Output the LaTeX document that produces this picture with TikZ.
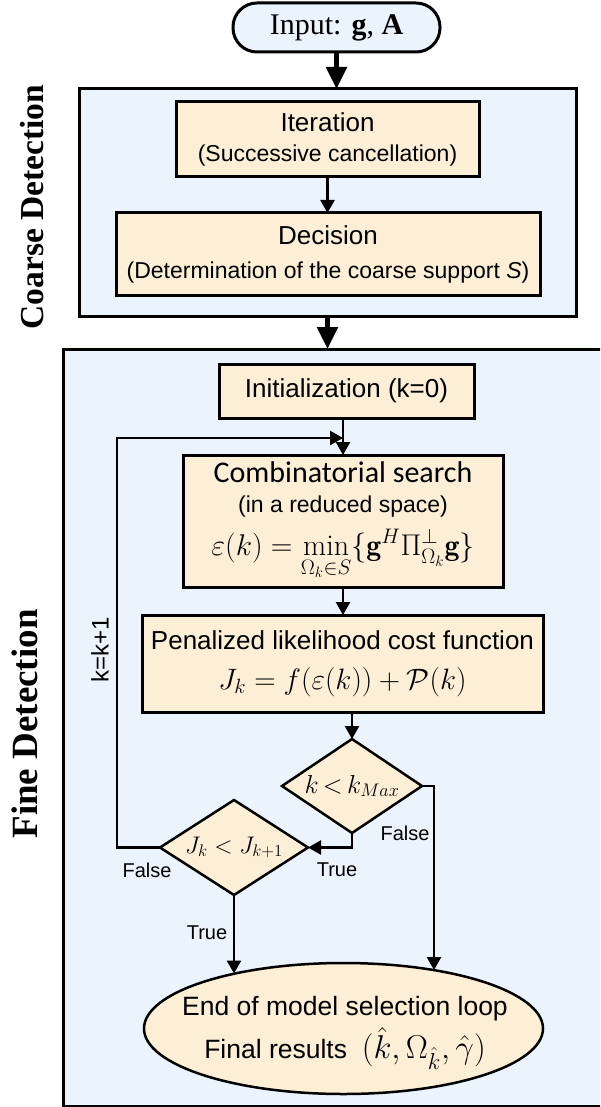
\RequirePackage{fix-cm}
\documentclass[tikz,border=0pt]{standalone}
\usepackage{amsmath}
\usepackage{fontspec}
\setsansfont{Liberation Sans}
\newfontfamily\timesf{Liberation Serif}
\newfontfamily\calib{Carlito}
\usetikzlibrary{shapes.geometric,arrows.meta}
\definecolor{bluebg}{RGB}{235,243,252}
\definecolor{boxfill}{RGB}{253,239,214}
\newcommand{\fsz}[1]{\fontsize{#1}{#1}\selectfont}
\begin{document}
\begin{tikzpicture}[x=1pt,y=-1pt,
  region/.style={draw=black,line width=3pt,fill=bluebg,inner sep=0pt,outer sep=0pt},
  proc/.style={draw=black,line width=3pt,fill=boxfill,inner sep=0pt,outer sep=0pt,align=center,font=\sffamily\fsz{26}},
  decis/.style={diamond,aspect=1.5,draw=black,line width=2.5pt,fill=boxfill,inner sep=0pt,outer sep=0pt},
  endbox/.style={ellipse,draw=black,line width=2.5pt,fill=boxfill,inner sep=0pt,outer sep=0pt},
  conn/.style={line width=2.5pt,-{Triangle[length=13pt,width=14pt]}},
  bigconn/.style={line width=5pt,-{Triangle[length=22pt,width=20pt]}},
  lbl/.style={font=\sffamily\fsz{20},inner sep=0pt},
  side/.style={rotate=90,inner sep=0pt},
]
\useasboundingbox (0,0) rectangle (600,1107);
\fill[white] (0,0) rectangle (600,1107);

% regions
\node[region,anchor=north west,minimum width=497,minimum height=227] (coarse) at (79,89) {};
\begin{scope}
\clip (0,0) rectangle (600,1107);
\node[region,anchor=north west,minimum width=560,minimum height=757] (fine) at (63,349) {};
\end{scope}

% side labels
\node[side,font=\timesf\bfseries\fsz{33.5}] (cl) at (32.5,207) {Coarse Detection};
\node[side,font=\timesf\bfseries\fsz{37}] (fl) at (25,724) {Fine Detection};

% input
\node[draw=black,line width=3pt,fill=bluebg,rounded corners=24pt,minimum width=207,minimum height=49,inner sep=0pt,outer sep=0pt,font=\timesf\fsz{30}] (input) at (336.5,27.5) {Input: \textbf{g}, \textbf{A}};

% coarse stage
\node[proc,minimum width=303,minimum height=75] (iter) at (327.5,139.5) {Iteration\\[4pt]{\fsz{23}(Successive cancellation)}};
\node[proc,minimum width=424,minimum height=82] (dec) at (328,254) {Decision\\[8pt]{\fsz{23}(Determination of the coarse support \textit{S})}};

% fine stage
\node[proc,minimum width=255,minimum height=54] (init) at (346.5,391) {Initialization (k=0)};
\node[proc,minimum width=320,minimum height=132] (comb) at (343,521) {{\calib\fsz{30}Combinatorial search}\\[4pt]{\fsz{23}(in a reduced space)}\\[10pt]{\fsz{30}$\displaystyle\varepsilon(k)=\min_{\Omega_k\in S}\{\mathbf{g}^H\Pi^{\perp}_{\Omega_k}\mathbf{g}\}$}};
\node[proc,minimum width=401,minimum height=97] (pen) at (342.5,663.5) {Penalized likelihood cost function\\[14pt]{\fsz{29.5}$J_k=f(\varepsilon(k))+\mathcal{P}(k)$}};

\node[decis,minimum width=140,minimum height=94] (dk) at (352,786) {\fsz{26}$k\,{<}\,k_{Max}$};
\node[decis,minimum width=148,minimum height=95] (dj) at (234,847.5) {\fsz{24}$J_k<J_{k+1}$};

\node[endbox,minimum width=399,minimum height=131] (ell) at (343.5,1028.5) {};
\node[align=center,inner sep=0pt,font=\sffamily\fsz{26.5}] (elltext) at (345,1033) {End of model selection loop\\[5pt]Final results\ \ {\fsz{33}$(\hat{k},\Omega_{\hat{k}},\hat{\gamma})$}};

% connectors
\draw[bigconn] (input.south) -- (input.south |- coarse.north);
\draw[bigconn] (coarse.south) -- (coarse.south |- fine.north);
\draw[conn] (iter.south) -- (iter.south |- dec.north);
\draw[conn] (comb.north |- init.south) -- (comb.north);
\draw[conn] (comb.south) -- (comb.south |- pen.north);
\draw[conn] (dk.north |- pen.south) -- (dk.north);
\draw[conn] (dk.south) |- (dj.east);
\coordinate (eR) at (434,970);
\coordinate (eL) at (234,973.5);
\coordinate (loop) at (117,438);
\draw[conn] (dk.east) -| (eR);
\draw[conn] (dj.south) -- (eL);
\draw[conn] (dj.west) -| (loop) -- (comb.north |- loop);

% labels
\node[lbl] (fk) at (405,833) {False};
\node[lbl] (tk) at (337,870) {True};
\node[lbl] (fj) at (147,870) {False};
\node[lbl] (tj) at (207,933) {True};
\node[lbl,rotate=90,font=\sffamily\fsz{24}] (kk) at (100,650) {k=k+1};
\end{tikzpicture}
\end{document}
